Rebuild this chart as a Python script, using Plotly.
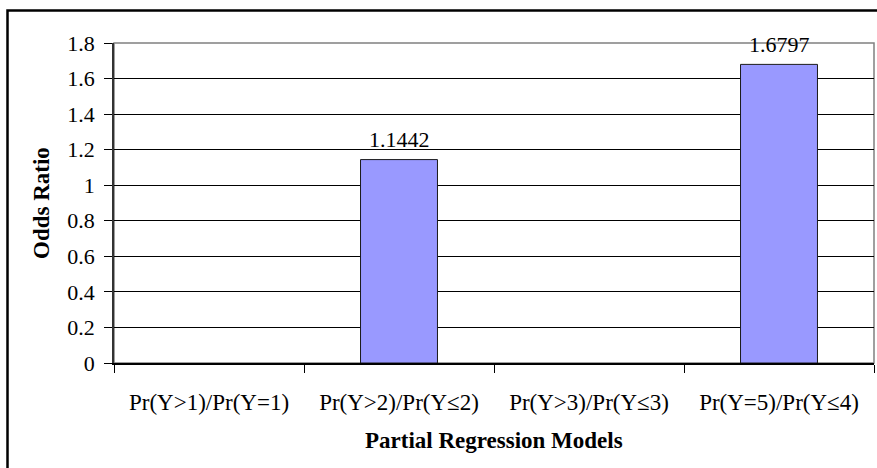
import plotly.graph_objects as go

categories = ["Pr(Y>1)/Pr(Y=1)", "Pr(Y>2)/Pr(Y≤2)", "Pr(Y>3)/Pr(Y≤3)", "Pr(Y=5)/Pr(Y≤4)"]
odds_ratio = [None, 1.1442, None, 1.6797]
y_ticks = [0, 0.2, 0.4, 0.6, 0.8, 1, 1.2, 1.4, 1.6, 1.8]
y_tick_labels = ["0", "0.2", "0.4", "0.6", "0.8", "1", "1.2", "1.4", "1.6", "1.8"]

FONT = "Liberation Serif, Times New Roman, serif"
W, H = 877, 468
L, R, T, B = 114, 3, 43, 105
pw, ph = W - L - R, H - T - B

fig = go.Figure()
fig.add_trace(go.Bar(
    x=categories, y=odds_ratio, width=0.405,
    marker=dict(color="#9999FF", line=dict(color="#1a1a1a", width=1)),
    hoverinfo="x+y",
))

annotations = []
for c, v in zip(categories, odds_ratio):
    if v is not None:
        annotations.append(dict(x=c, y=v, xref="x", yref="y", text=f"{v:.4f}",
                                showarrow=False, yshift=20, yanchor="middle",
                                font=dict(family=FONT, size=22, color="#000")))

def px_to_paper_x(p):
    return (p - L) / pw

def px_to_paper_y(p):
    return (H - B - p) / ph

annotations.append(dict(x=0.5, y=px_to_paper_y(440), xref="paper", yref="paper",
                        text="<b>Partial Regression Models</b>", showarrow=False,
                        yanchor="middle", xanchor="center",
                        font=dict(family=FONT, size=23, color="#000")))
annotations.append(dict(x=px_to_paper_x(41), y=0.5, xref="paper", yref="paper",
                        text="<b>Odds Ratio</b>", showarrow=False, textangle=-90,
                        yanchor="middle", xanchor="center",
                        font=dict(family=FONT, size=23, color="#000")))

shapes = [
    # plot area border (gray)
    dict(type="rect", xref="paper", yref="paper", x0=0, x1=1, y0=0, y1=1,
         line=dict(color="#808080", width=1.5), layer="below"),
    # outer chart border
    dict(type="rect", xref="paper", yref="paper",
         x0=px_to_paper_x(7.5), x1=px_to_paper_x(890),
         y0=px_to_paper_y(490), y1=px_to_paper_y(10.5),
         line=dict(color="#000", width=2.5), layer="above"),
]

fig.update_layout(
    width=W, height=H,
    margin=dict(l=L, r=R, t=T, b=B, pad=0),
    paper_bgcolor="white", plot_bgcolor="white",
    showlegend=False,
    font=dict(family=FONT, size=22, color="#000"),
    annotations=annotations,
    shapes=shapes,
    xaxis=dict(
        type="category", categoryorder="array", categoryarray=categories,
        tickson="boundaries", ticks="outside", ticklen=8, tickcolor="#000", tickwidth=1,
        showline=True, linecolor="#000", linewidth=1.5,
        showgrid=False, tickfont=dict(family=FONT, size=23, color="#000"),
        ticklabelstandoff=18, fixedrange=True,
    ),
    yaxis=dict(
        range=[0, 1.8], tickmode="array", tickvals=y_ticks, ticktext=y_tick_labels,
        ticks="outside", ticklen=8, tickcolor="#000", tickwidth=1,
        showline=True, linecolor="#333", linewidth=1.5,
        showgrid=True, gridcolor="#000", gridwidth=1, zeroline=False,
        tickfont=dict(family=FONT, size=22, color="#000"),
        ticklabelstandoff=5, fixedrange=True,
    ),
)

fig.write_html("out.html")
